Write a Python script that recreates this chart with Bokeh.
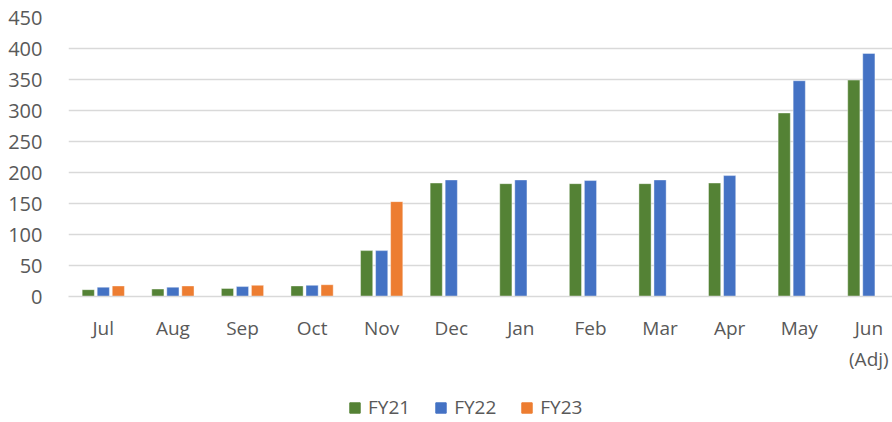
from bokeh.plotting import figure
from bokeh.layouts import column
from bokeh.models import ColumnDataSource, Range1d, FixedTicker, Legend, LegendItem
from bokeh.transform import dodge
from bokeh.embed import file_html
from bokeh.resources import INLINE

months = ["Jul", "Aug", "Sep", "Oct", "Nov", "Dec", "Jan", "Feb", "Mar", "Apr", "May", "Jun\n(Adj)"]
series = ["FY21", "FY22", "FY23"]
colors = ["#548235", "#4472C4", "#ED7D31"]
fy21 = [11, 12, 13, 17, 74, 183, 182, 182, 182, 183, 296, 349]
fy22 = [15, 15, 16, 18, 74, 188, 188, 187, 188, 195, 348, 392]
fy23 = [17, 17, 18, 19, 153]
y_ticks = [0, 50, 100, 150, 200, 250, 300, 350, 400, 450]

FONT = "Open Sans"
TXT = "#595959"

xs = list(range(len(months)))
src_a = ColumnDataSource(dict(x=xs, fy21=fy21, fy22=fy22))
src_b = ColumnDataSource(dict(x=xs[:len(fy23)], fy23=fy23))

p = figure(width=892, height=392, output_backend="svg", toolbar_location=None,
           x_range=Range1d(-0.5, 11.34), y_range=Range1d(0, 450))
p.min_border_left = 68
p.min_border_right = 0
p.min_border_top = 17
p.min_border_bottom = 96
p.outline_line_color = None

off = 0.216
bw = 0.175
p.vbar(x=dodge("x", -off, range=p.x_range), top="fy21", width=bw, source=src_a,
       fill_color=colors[0], line_color="#ffffff", line_alpha=0.4)
p.vbar(x=dodge("x", 0.0, range=p.x_range), top="fy22", width=bw, source=src_a,
       fill_color=colors[1], line_color="#ffffff", line_alpha=0.4)
p.vbar(x=dodge("x", off, range=p.x_range), top="fy23", width=bw, source=src_b,
       fill_color=colors[2], line_color="#ffffff", line_alpha=0.4)

p.xaxis.ticker = FixedTicker(ticks=xs)
p.xaxis.major_label_overrides = {i: m for i, m in enumerate(months)}
p.xaxis.major_tick_line_color = None
p.xaxis.minor_tick_line_color = None
p.xaxis.axis_line_color = "#d9d9d9"
p.xaxis.axis_line_width = 1.5
p.xaxis.major_label_standoff = 12
p.xaxis.major_label_text_font = FONT
p.xaxis.major_label_text_font_size = "19px"
p.xaxis.major_label_text_color = TXT

p.yaxis.ticker = FixedTicker(ticks=y_ticks)
p.yaxis.major_tick_line_color = None
p.yaxis.minor_tick_line_color = None
p.yaxis.axis_line_color = None
p.yaxis.major_label_standoff = 20
p.yaxis.major_label_text_font = FONT
p.yaxis.major_label_text_font_size = "20px"
p.yaxis.major_label_text_color = TXT

p.xgrid.grid_line_color = None
p.ygrid.ticker = FixedTicker(ticks=y_ticks)
p.ygrid.grid_line_color = "#d9d9d9"
p.ygrid.grid_line_width = 1.5

# legend strip below the chart (swatches only; bars placed outside its range)
lg = figure(width=892, height=30, output_backend="svg", toolbar_location=None,
            x_range=Range1d(0, 1), y_range=Range1d(0, 1), min_border=0,
            x_axis_type=None, y_axis_type=None)
lg.grid.grid_line_color = None
lg.outline_line_color = None
items = []
for name, c in zip(series, colors):
    r = lg.vbar(x=[-10], top=[-10], bottom=[-11], width=0.1, fill_color=c, line_color=c)
    items.append(LegendItem(label=name, renderers=[r]))
legend = Legend(items=items, orientation="horizontal", location=(280, 2),
                border_line_color=None, background_fill_alpha=0,
                label_text_font=FONT, label_text_font_size="19px", label_text_color=TXT,
                glyph_width=13, glyph_height=13, spacing=24, label_standoff=7,
                padding=0, margin=0)
lg.add_layout(legend, "center")

layout = column(p, lg, spacing=0)
open("out.html", "w").write(file_html(layout, INLINE))
